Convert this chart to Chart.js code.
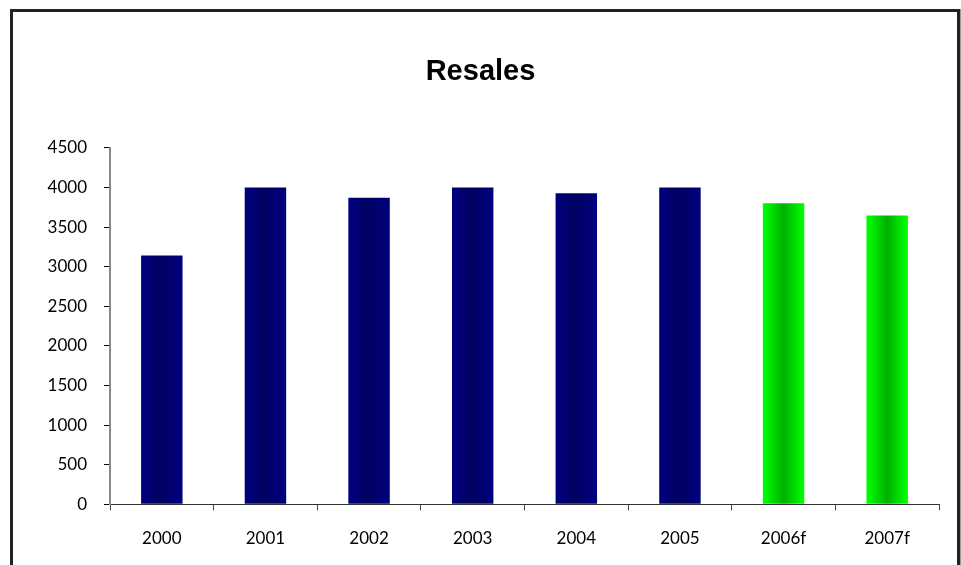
<!DOCTYPE html>
<html>
<head>
<meta charset="utf-8">
<script src="https://cdn.jsdelivr.net/npm/chart.js@4"></script>
<style>
  body { margin: 0; background: #fff; }
  #wrap { position: relative; width: 961px; height: 565px; }
  #frame { position: absolute; left: 10px; top: 9px; width: 944px; height: 570px;
    border: 3px solid #222; border-bottom: none; box-shadow: 1px 0 0 #999; pointer-events: none; }
  canvas { position: absolute; left: 0; top: 0; }
</style>
</head>
<body>
<div id="wrap">
  <canvas id="myChart" width="961" height="565"></canvas>
  <div id="frame"></div>
</div>
<script>
const years = ['2000', '2001', '2002', '2003', '2004', '2005', '2006f', '2007f'];
const resales = [3140, 4000, 3870, 4000, 3925, 4000, 3800, 3645];
const isForecast = [false, false, false, false, false, false, true, true];
const yTicks = [0, 500, 1000, 1500, 2000, 2500, 3000, 3500, 4000, 4500];

const ctx = document.getElementById('myChart');

// horizontal shading inside each bar, like the old spreadsheet look
function barFill(c) {
  const chart = c.chart;
  const x = chart.scales.x;
  const flat = isForecast[c.dataIndex] ? '#00e000' : '#000078';
  if (!x || !(x.width > 0)) return flat;
  const cx = x.getPixelForValue(c.dataIndex);
  const w = (x.width / years.length) * 0.4;
  if (!isFinite(cx) || !isFinite(w)) return flat;
  const g = chart.ctx.createLinearGradient(cx - w / 2, 0, cx + w / 2, 0);
  if (isForecast[c.dataIndex]) {
    g.addColorStop(0, '#00ff00');
    g.addColorStop(0.12, '#00f000');
    g.addColorStop(0.5, '#00b000');
    g.addColorStop(0.88, '#00f000');
    g.addColorStop(1, '#00ff00');
  } else {
    g.addColorStop(0, '#000080');
    g.addColorStop(0.45, '#000062');
    g.addColorStop(1, '#000080');
  }
  return g;
}

new Chart(ctx, {
  type: 'bar',
  data: {
    labels: years,
    datasets: [{
      label: 'Resales',
      data: resales,
      backgroundColor: barFill,
      borderWidth: 0,
      barPercentage: 0.4,
      categoryPercentage: 1
    }]
  },
  options: {
    responsive: false,
    animation: false,
    layout: { padding: { left: 22, right: 22, top: 0, bottom: 0 } },
    plugins: {
      legend: { display: false },
      tooltip: { enabled: false },
      title: {
        display: true,
        text: 'Resales',
        color: '#000',
        font: { family: 'Liberation Sans', size: 29, weight: 'bold' },
        padding: { top: 55, bottom: 58 }
      }
    },
    scales: {
      x: {
        afterFit: s => { s.height = 60.7; },
        grid: { drawOnChartArea: false, offset: true, tickLength: 6, color: '#444', lineWidth: 1 },
        border: { color: '#333', width: 1 },
        ticks: { color: '#000', padding: 18, font: { family: 'Lato', size: 17 } }
      },
      y: {
        min: 0,
        max: 4500,
        afterFit: s => { s.width = 88; },
        afterBuildTicks: s => { s.ticks = yTicks.map(v => ({ value: v })); },
        grid: { drawOnChartArea: false, tickLength: 6, color: '#000', lineWidth: 1 },
        border: { color: '#888', width: 2 },
        ticks: {
          color: '#000',
          padding: 17,
          font: { family: 'Lato', size: 17 },
          callback: v => String(v)
        }
      }
    }
  }
});
</script>
</body>
</html>
